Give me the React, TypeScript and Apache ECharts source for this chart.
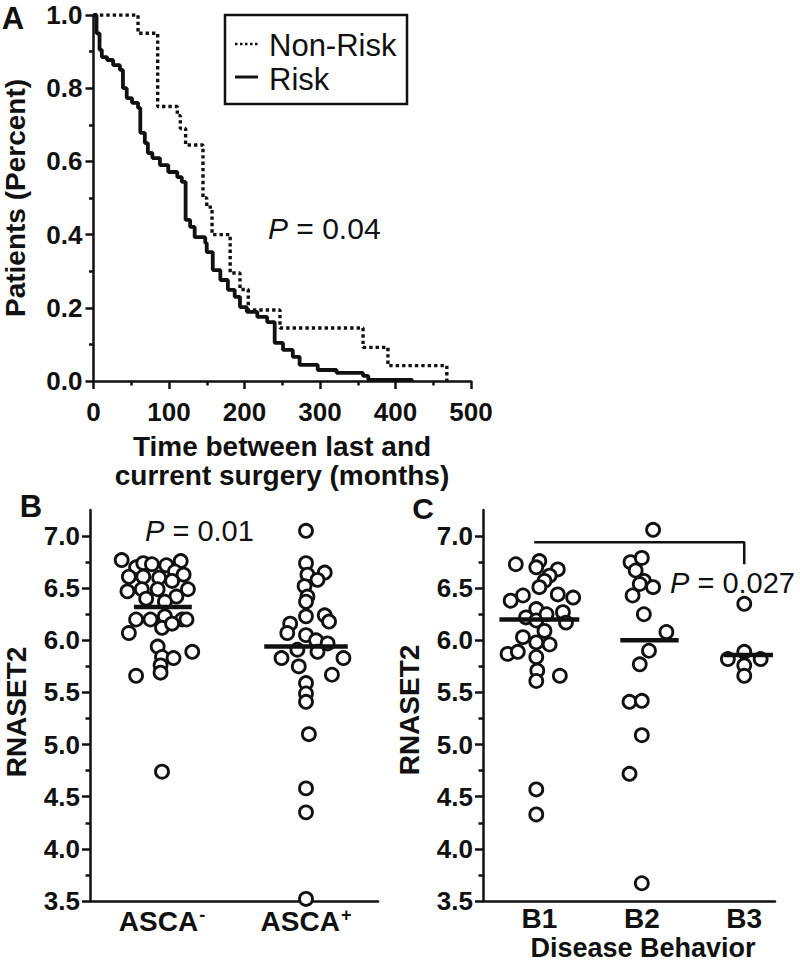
import React, { useEffect, useRef } from "react";
import * as echarts from "echarts";

// ---------- Panel A: Kaplan-Meier curves ----------
const monthMax = 500;
const nonRiskMonths = [0, 59, 85, 111, 115, 122, 145, 150, 157, 181, 194, 205, 247, 357, 390, 468];
const nonRiskSurvival = [1, 0.95, 0.75, 0.725, 0.69, 0.645, 0.5, 0.475, 0.4, 0.295, 0.25, 0.194, 0.145, 0.092, 0.042, 0];
const riskMonths = [0, 4, 8, 11, 18, 26, 35, 39, 44, 51, 59, 62, 68, 72, 78, 88, 99, 111, 117, 122, 128, 134, 148, 150, 158, 168, 178, 187, 194, 203, 217, 230, 240, 251, 264, 273, 297, 322, 357, 364, 422];
const riskSurvival = [1, 0.95, 0.905, 0.885, 0.877, 0.863, 0.85, 0.8, 0.773, 0.76, 0.746, 0.678, 0.65, 0.623, 0.609, 0.59, 0.571, 0.557, 0.544, 0.44, 0.421, 0.393, 0.377, 0.352, 0.303, 0.276, 0.249, 0.23, 0.202, 0.189, 0.175, 0.161, 0.104, 0.085, 0.066, 0.044, 0.03, 0.022, 0.014, 0.003, 0];

// ---------- Panels B & C: RNASET2 ----------
const rnaMajorTicks = [3.5, 4.0, 4.5, 5.0, 5.5, 6.0, 6.5, 7.0];
const rnaMinorTicks = [3.75, 4.25, 4.75, 5.25, 5.75, 6.25, 6.75];

const ascaGroups = ["ASCA-", "ASCA+"];
const ascaNegValues = [6.77, 6.7, 6.74, 6.73, 6.72, 6.76, 6.66, 6.63, 6.61, 6.61, 6.6, 6.57, 6.47, 6.49, 6.49, 6.49, 6.42, 6.4, 6.37, 6.2, 6.2, 6.23, 6.2, 6.2, 6.07, 6.12, 6.16, 5.94, 5.84, 5.83, 5.89, 5.76, 5.69, 5.66, 4.74];
const ascaNegJitter = [-0.28, -0.18, -0.13, -0.07, 0.03, 0.13, 0.09, 0.15, -0.23, -0.13, -0.02, 0.07, -0.24, -0.14, -0.03, 0.18, 0.1, -0.11, 0.02, -0.18, -0.08, 0.02, 0.14, 0.17, -0.23, 0.0, 0.07, -0.03, 0.0, 0.08, 0.21, -0.01, -0.01, -0.18, 0.0];
const ascaPosValues = [7.05, 6.74, 6.63, 6.65, 6.58, 6.52, 6.42, 6.37, 6.16, 6.23, 6.24, 6.18, 6.07, 6.05, 6.0, 5.97, 5.83, 5.91, 5.89, 5.83, 5.75, 5.67, 5.59, 5.49, 5.41, 5.1, 4.58, 4.35, 3.52];
const ascaPosJitter = [0, 0, 0.01, 0.13, 0.08, -0.01, 0.01, 0, -0.11, 0, 0.13, 0.16, -0.13, 0, 0.07, 0.15, -0.17, -0.06, 0.08, 0.26, -0.05, 0.18, 0, 0, 0, 0.02, 0, 0, 0];
const ascaMeans = [6.32, 5.94];
const ascaMeanSpan = [[-0.195, 0.207], [-0.29, 0.29]];

const behaviorGroups = ["B1", "B2", "B3"];
const b1Values = [6.73, 6.76, 6.7, 6.68, 6.62, 6.57, 6.51, 6.43, 6.38, 6.44, 6.41, 6.3, 6.22, 6.19, 6.25, 6.27, 6.17, 6.03, 6.09, 5.98, 5.96, 5.87, 5.89, 5.84, 5.71, 5.61, 5.66, 4.57, 4.33];
const b1Jitter = [-0.23, 0, -0.03, 0.18, 0.1, 0.05, 0, -0.16, -0.28, 0.18, 0.33, -0.03, -0.13, -0.03, 0.07, 0.23, 0.26, -0.16, 0.05, -0.03, 0.1, -0.31, -0.21, -0.03, -0.02, -0.03, 0.2, -0.03, -0.03];
const b2Values = [7.06, 6.75, 6.79, 6.67, 6.57, 6.54, 6.51, 6.43, 6.25, 6.08, 5.9, 5.77, 5.41, 5.42, 5.09, 4.72, 3.67];
const b2Jitter = [0.11, -0.11, 0, -0.06, 0.02, -0.02, 0.11, -0.09, 0.02, 0.24, 0.07, -0.02, -0.12, 0, 0.0, -0.12, 0];
const b3Values = [6.35, 5.82, 5.89, 5.82, 5.76, 5.66];
const b3Jitter = [0, -0.16, 0, 0.16, 0, 0];
const behaviorMeans = [6.2, 6.0, 5.86];
const behaviorMeanSpan = [[-0.39, 0.39], [-0.21, 0.36], [-0.2, 0.28]];
const bracketX = [0.95, 3, 3];
const bracketY = [6.94, 6.94, 6.73];

const INK = "#111";
const FONT = "'Liberation Sans', Arial, Helvetica, sans-serif";

const zip = (xs: number[], ys: number[]) => xs.map((x, i) => [x, ys[i]]);
const jittered = (center: number, offs: number[], vals: number[]) => vals.map((v, i) => [center + offs[i], v]);

const lineStyle = { color: INK, width: 2.5 };
const tickLabel = { color: INK, fontFamily: FONT, fontWeight: "bold" as const, fontSize: 26 };

const scatterStyle = (xi: number, yi: number, data: number[][]) => ({
  type: "scatter",
  xAxisIndex: xi,
  yAxisIndex: yi,
  data,
  symbol: "circle",
  symbolSize: 13,
  itemStyle: { color: "#fff", borderColor: INK, borderWidth: 2.8, opacity: 1 },
  emphasis: { disabled: true },
  silent: true,
  clip: false,
  z: 2,
});

const meanLine = (xi: number, yi: number, center: number, span: number[], mean: number) => ({
  type: "line",
  xAxisIndex: xi,
  yAxisIndex: yi,
  data: [[center + span[0], mean], [center + span[1], mean]],
  symbol: "none",
  lineStyle: { color: INK, width: 4.5 },
  silent: true,
  z: 4,
});

const rnaYAxes = (gi: number) => [
  {
    gridIndex: gi,
    type: "value",
    min: 3.5,
    max: 7.25,
    axisLine: { show: true, onZero: false, lineStyle },
    axisTick: { show: true, length: 8, customValues: rnaMajorTicks, lineStyle },
    axisLabel: { ...tickLabel, margin: 10, customValues: rnaMajorTicks, formatter: (v: number) => v.toFixed(1) },
    splitLine: { show: false },
  },
  {
    gridIndex: gi,
    type: "value",
    min: 3.5,
    max: 7.25,
    position: "left",
    axisLine: { show: false },
    axisTick: { show: true, length: 4.5, customValues: rnaMinorTicks, lineStyle },
    axisLabel: { show: false },
    splitLine: { show: false },
  },
];

const txt = (x: number, y: number, text: string, size: number, opts: any = {}) => ({
  type: "text",
  x,
  y,
  rotation: opts.rotation || 0,
  silent: true,
  style: {
    text,
    fontSize: size,
    fontFamily: FONT,
    fontWeight: opts.weight || "bold",
    fill: INK,
    lineHeight: opts.lineHeight,
    align: opts.align || "center",
    verticalAlign: "middle",
    textAlign: opts.align || "center",
    textVerticalAlign: "middle",
    rich: opts.rich,
  },
});

const pRich = (size: number) => ({
  i: { fontStyle: "italic", fontSize: size, fontFamily: FONT, fill: INK, color: INK },
  n: { fontSize: size, fontFamily: FONT, fill: INK, color: INK },
});

const option: any = {
  animation: false,
  backgroundColor: "#fff",
  grid: [
    { left: 93.5, top: 15, width: 377.5, height: 366 },
    { left: 90, top: 510, width: 288, height: 391 },
    { left: 483, top: 510, width: 292, height: 391 },
  ],
  xAxis: [
    {
      gridIndex: 0,
      type: "value",
      min: 0,
      max: monthMax,
      interval: 100,
      axisLine: { show: true, onZero: false, lineStyle },
      axisTick: { show: true, length: 8, lineStyle },
      minorTick: { show: true, splitNumber: 2, length: 4.5, lineStyle },
      axisLabel: { ...tickLabel, margin: 18 },
      splitLine: { show: false },
    },
    {
      gridIndex: 1,
      type: "value",
      min: 0.5,
      max: 2.5,
      interval: 0.5,
      axisLine: { show: true, onZero: false, lineStyle },
      axisTick: { show: false },
      axisLabel: {
        margin: 5,
        customValues: [1, 2],
        formatter: (v: number) => {
          const i = Math.round(v) - 1;
          if (Math.abs(v - Math.round(v)) > 1e-6 || !ascaGroups[i]) return "";
          const g = ascaGroups[i];
          return "{m|" + g.slice(0, 4) + "}{s|" + g.slice(4) + "}";
        },
        rich: {
          m: { fontSize: 28, fontWeight: "bold", fontFamily: FONT, color: INK, lineHeight: 30 },
          s: { fontSize: 18, fontWeight: "bold", fontFamily: FONT, color: INK, verticalAlign: "top", lineHeight: 16, padding: [0, 0, 0, 1] },
        },
      },
      splitLine: { show: false },
    },
    {
      gridIndex: 2,
      type: "value",
      min: 0.45,
      max: 3.3,
      interval: 0.05,
      axisLine: { show: true, onZero: false, lineStyle },
      axisTick: { show: false },
      axisLabel: {
        fontSize: 28,
        fontWeight: "bold",
        fontFamily: FONT,
        color: INK,
        lineHeight: 24,
        margin: 5,
        customValues: [1, 2, 3],
        formatter: (v: number) => {
          const i = Math.round(v) - 1;
          return Math.abs(v - Math.round(v)) < 1e-6 && behaviorGroups[i] ? behaviorGroups[i] : "";
        },
      },
      splitLine: { show: false },
    },
  ],
  yAxis: [
    {
      gridIndex: 0,
      type: "value",
      min: 0,
      max: 1,
      interval: 0.2,
      axisLine: { show: true, onZero: false, lineStyle },
      axisTick: { show: true, length: 8, lineStyle },
      minorTick: { show: true, splitNumber: 2, length: 4.5, lineStyle },
      axisLabel: { ...tickLabel, margin: 11, formatter: (v: number) => v.toFixed(1) },
      splitLine: { show: false },
    },
    ...rnaYAxes(1),
    ...rnaYAxes(2),
  ],
  series: [
    {
      name: "Non-Risk",
      type: "line",
      xAxisIndex: 0,
      yAxisIndex: 0,
      step: "end",
      data: zip(nonRiskMonths, nonRiskSurvival),
      symbol: "none",
      lineStyle: { color: INK, width: 3.4, type: [3.4, 3], cap: "butt" },
      silent: true,
      z: 3,
    },
    {
      name: "Risk",
      type: "line",
      xAxisIndex: 0,
      yAxisIndex: 0,
      step: "end",
      data: zip(riskMonths, riskSurvival),
      symbol: "none",
      lineStyle: { color: INK, width: 3.8 },
      silent: true,
      z: 4,
    },
    scatterStyle(1, 1, jittered(1, ascaNegJitter, ascaNegValues)),
    scatterStyle(1, 1, jittered(2, ascaPosJitter, ascaPosValues)),
    meanLine(1, 1, 1, ascaMeanSpan[0], ascaMeans[0]),
    meanLine(1, 1, 2, ascaMeanSpan[1], ascaMeans[1]),
    scatterStyle(2, 3, jittered(1, b1Jitter, b1Values)),
    scatterStyle(2, 3, jittered(2, b2Jitter, b2Values)),
    scatterStyle(2, 3, jittered(3, b3Jitter, b3Values)),
    meanLine(2, 3, 1, behaviorMeanSpan[0], behaviorMeans[0]),
    meanLine(2, 3, 2, behaviorMeanSpan[1], behaviorMeans[1]),
    meanLine(2, 3, 3, behaviorMeanSpan[2], behaviorMeans[2]),
    {
      type: "line",
      xAxisIndex: 2,
      yAxisIndex: 3,
      data: zip(bracketX, bracketY),
      symbol: "none",
      lineStyle: { color: INK, width: 2.5 },
      silent: true,
      z: 3,
    },
  ],
  graphic: [
    // panel letters
    txt(13, 18, "A", 31, { lineHeight: 26 }),
    txt(31, 506, "B", 31, { lineHeight: 26 }),
    txt(423, 508, "C", 30, { lineHeight: 26 }),
    // axis titles
    txt(15, 198, "Patients (Percent)", 28, { rotation: Math.PI / 2 }),
    txt(282, 446, "Time between last and", 28, { lineHeight: 26 }),
    txt(282, 475, "current surgery (months)", 28, { lineHeight: 26 }),
    txt(16, 712, "RNASET2", 28, { rotation: Math.PI / 2 }),
    txt(409, 710, "RNASET2", 28, { rotation: Math.PI / 2 }),
    txt(643, 948, "Disease Behavior", 27),
    // P values
    txt(268, 228, "{i|P}{n| = 0.04}", 30, { weight: "normal", align: "left", rich: pRich(30) }),
    txt(145, 531, "{i|P}{n| = 0.01}", 29, { weight: "normal", align: "left", rich: pRich(29) }),
    txt(670, 583, "{i|P}{n| = 0.027}", 29, { weight: "normal", align: "left", rich: pRich(29) }),
    // legend
    {
      type: "rect",
      silent: true,
      shape: { x: 225, y: 15, width: 182, height: 89 },
      style: { fill: "#fff", stroke: INK, lineWidth: 2.5 },
      z: 10,
    },
    {
      type: "line",
      silent: true,
      shape: { x1: 235, y1: 44, x2: 258, y2: 44 },
      style: { stroke: INK, lineWidth: 2.5, lineDash: [2.5, 2.5] },
      z: 11,
    },
    {
      type: "line",
      silent: true,
      shape: { x1: 235, y1: 77, x2: 258, y2: 77 },
      style: { stroke: INK, lineWidth: 3 },
      z: 11,
    },
    { ...txt(269, 45, "Non-Risk", 31, { weight: "normal", align: "left" }), z: 11 },
    { ...txt(269, 79, "Risk", 31, { weight: "normal", align: "left" }), z: 11 },
  ],
};

export default function App() {
  const ref = useRef<HTMLDivElement>(null);
  useEffect(() => {
    document.body.style.margin = "0";
    const chart = echarts.init(ref.current as HTMLDivElement, null, { renderer: "svg" });
    chart.setOption(option);
    return () => chart.dispose();
  }, []);
  return <div ref={ref} style={{ width: 800, height: 965 }} />;
}
